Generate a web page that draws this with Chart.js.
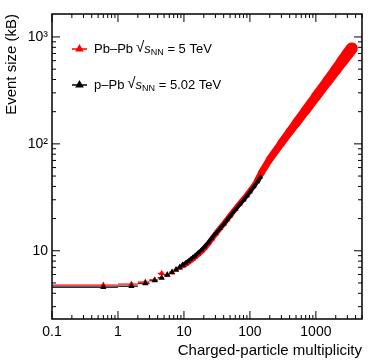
<!DOCTYPE html>
<html><head><meta charset="utf-8">
<script src="https://cdn.jsdelivr.net/npm/chart.js@4"></script>
<style>html,body{margin:0;padding:0;background:#fff}#wrap{width:374px;height:363px;position:relative}</style>
</head><body><div id="wrap"><canvas id="c"></canvas></div>
<script>
// ---- data ----
const pbpbMult = [0.6,1.6,2.6,3.6,4.6,5.6,6.6,7.6,8.6,9.6,10.6,11.6,12.6,13.6,14.6,16.5,18.5,20.5,23.5,26.5,30.5,35.5,40.5,45.5,50.5,60.5,70.5,80.5,90.5,100.5,115.5,130.5,150,200,300,400,500,700,1000,1500,2000,2500,3000,3500];
const pbpbSize = [4.78,4.88,5.1,5.35,6.15,5.95,6.25,6.6,6.9,7.25,7.5,7.8,8.1,8.4,8.7,9.3,9.9,10.6,11.7,12.9,14.5,16.3,18.0,19.8,21.5,24.8,27.8,30.6,33.5,36.5,41,46,54,72,102,130,156,206,277,387,492,593,689,782];
const ppbMult = [0.6,1.6,2.6,3.6,4.6,5.6,6.6,7.6,8.6,9.6,10.6,11.6,12.6,13.6,14.6,16.5,18.5,20.5,23.5,26.5,30.5,35.5,40.5,45.5,50.5,60.5,70.5,80.5,90.5,100.5,115.5,130.5,145.5];
const ppbSize = [4.57,4.66,4.95,5.27,5.58,5.95,6.3,6.65,7.0,7.35,7.7,8.0,8.35,8.65,8.95,9.6,10.2,10.9,12.0,13.2,14.6,16.2,17.8,19.5,21.2,24.3,27.2,29.8,32.6,35.5,39.8,44.3,49.0];
const xTickValues = [0.1,1,10,100,1000];
const xTickLabels = ['0.1','1','10','100','1000'];
const yTickValues = [10,100,1000];
const yTickLabels = ['10','10\u00B2','10\u00B3'];
const seriesNames = ['Pb\u2013Pb','p\u2013Pb'];
const seriesEnergy = [' = 5 TeV',' = 5.02 TeV'];
const xTitle = 'Charged-particle multiplicity';
const yTitle = 'Event size (kB)';

const RED = '#ff0000', BLACK = '#000000';
const FONT = '"Liberation Sans", Arial, sans-serif';
const toPts = (xs, ys) => xs.map((x, i) => ({x, y: ys[i]}));
const pbpb = toPts(pbpbMult, pbpbSize);
const ppb = toPts(ppbMult, ppbSize);
const LOW = 10, JOIN = 130;

const frame = {
  id: 'frame',
  beforeDatasetsDraw(chart) {
    const ctx = chart.ctx, xs = chart.scales.x, ys = chart.scales.y;
    const bars = (pts, col, w) => {
      ctx.save(); ctx.strokeStyle = col; ctx.lineWidth = w;
      pts.filter(p => p.x < LOW).forEach(p => {
        const lo = Math.floor(p.x);
        const x0 = xs.getPixelForValue(Math.max(lo, xs.min));
        const x1 = xs.getPixelForValue(lo + 1);
        const y = ys.getPixelForValue(p.y);
        ctx.beginPath(); ctx.moveTo(x0, y); ctx.lineTo(x1, y); ctx.stroke();
      });
      ctx.restore();
    };
    bars(ppb, '#333', 1.6);
    bars(pbpb, RED, 1.2);
  },
  afterDraw(chart) {
    const ctx = chart.ctx, a = chart.chartArea, xs = chart.scales.x, ys = chart.scales.y;
    ctx.save();
    ctx.strokeStyle = '#000'; ctx.lineWidth = 1;
    const tick = (v, scale, len, horiz) => {
      const p = scale.getPixelForValue(v);
      ctx.beginPath();
      if (horiz) {
        ctx.moveTo(p, a.bottom); ctx.lineTo(p, a.bottom - len);
        ctx.moveTo(p, a.top); ctx.lineTo(p, a.top + len);
      } else {
        ctx.moveTo(a.left, p); ctx.lineTo(a.left + len, p);
        ctx.moveTo(a.right, p); ctx.lineTo(a.right - len, p);
      }
      ctx.stroke();
    };
    for (let d = 0.1; d < xs.max; d *= 10) {
      for (let k = 1; k <= 9; k++) {
        const v = d * k;
        if (v >= xs.min && v <= xs.max) tick(v, xs, k === 1 ? 8 : 4, true);
      }
    }
    for (let d = 1; d < ys.max; d *= 10) {
      for (let k = 1; k <= 9; k++) {
        const v = d * k;
        if (v >= ys.min && v <= ys.max) tick(v, ys, k === 1 ? 8 : 4, false);
      }
    }
    ctx.lineWidth = 1.5;
    ctx.strokeRect(a.left, a.top, a.right - a.left, a.bottom - a.top);
    // legend
    const ly = [49, 85], cols = [RED, BLACK];
    for (let i = 0; i < 2; i++) {
      const y = ly[i];
      ctx.strokeStyle = cols[i]; ctx.fillStyle = cols[i]; ctx.lineWidth = 1.5;
      ctx.beginPath(); ctx.moveTo(72, y); ctx.lineTo(87, y); ctx.stroke();
      Chart.helpers.drawPoint(ctx, {pointStyle: 'triangle', radius: 3.5, rotation: 0, borderWidth: 1}, 79.5, y);
      ctx.fill();
      ctx.fillStyle = '#000'; ctx.textBaseline = 'middle'; ctx.textAlign = 'left';
      let x = 94;
      ctx.font = '13px ' + FONT;
      ctx.fillText(seriesNames[i], x, y); x += ctx.measureText(seriesNames[i]).width + 3;
      ctx.font = '15px ' + FONT;
      ctx.fillText('\u221A', x, y - 1); x += ctx.measureText('\u221A').width;
      ctx.font = 'italic 13px ' + FONT;
      ctx.fillText('s', x, y); x += ctx.measureText('s').width;
      ctx.font = '9px ' + FONT;
      ctx.fillText('NN', x, y + 4); x += ctx.measureText('NN').width;
      ctx.font = '13px ' + FONT;
      ctx.fillText(seriesEnergy[i], x, y);
    }
    ctx.restore();
  }
};

new Chart(document.getElementById('c'), {
  type: 'scatter',
  data: {
    datasets: [
      {label: 'pPb band', data: ppb.filter(p => p.x >= 9), showLine: true, borderColor: BLACK, backgroundColor: BLACK,
       borderWidth: 3.5, pointStyle: 'triangle', pointRadius: 3, pointBorderWidth: 0, order: 0},
      {label: 'pPb', data: ppb.filter(p => p.x < LOW), showLine: false, backgroundColor: BLACK, borderColor: BLACK,
       pointStyle: 'triangle', pointRadius: 3.6, pointBorderWidth: 0, order: 1},
      {label: 'PbPb mid', data: pbpb.filter(p => p.x >= 9 && p.x <= 160), showLine: true, borderColor: RED, backgroundColor: RED,
       borderWidth: 5.5, borderCapStyle: 'round', pointStyle: 'triangle', pointRadius: 3.6, pointBorderWidth: 0, order: 2},
      {label: 'PbPb', data: pbpb.filter(p => p.x < LOW), showLine: false, backgroundColor: RED, borderColor: RED,
       pointStyle: 'triangle', pointRadius: 3.6, pointBorderWidth: 0, order: 3},
      {label: 'PbPb high', data: pbpb.filter(p => p.x >= JOIN), showLine: true, borderColor: RED, backgroundColor: RED,
       borderWidth: 10, borderCapStyle: 'round', borderJoinStyle: 'round', pointRadius: 0, order: 4,
       segment: {borderWidth: c => 6.5 + c.p0DataIndex * 0.5}}
    ]
  },
  options: {
    responsive: true, maintainAspectRatio: false, animation: false,
    layout: {padding: {left: 0, top: 14, right: 12, bottom: 0}},
    plugins: {legend: {display: false}, tooltip: {enabled: false}},
    scales: {
      x: {
        type: 'logarithmic', min: 0.1, max: 5000,
        grid: {display: false, drawTicks: false}, border: {display: false},
        afterBuildTicks: s => { s.ticks = xTickValues.map(v => ({value: v, major: true})); },
        afterFit: s => { s.height = 44; },
        ticks: {autoSkip: false, maxRotation: 0, padding: 5, color: '#000',
          font: {family: FONT, size: 14}, callback: (v, i) => xTickLabels[i]},
        title: {display: true, text: xTitle, align: 'end', color: '#000',
          font: {family: FONT, size: 15}, padding: {top: 0, bottom: 3}}
      },
      y: {
        type: 'logarithmic', min: 2.3, max: 1640,
        grid: {display: false, drawTicks: false}, border: {display: false},
        afterBuildTicks: s => { s.ticks = yTickValues.map(v => ({value: v, major: true})); },
        afterFit: s => { s.width = 52; },
        ticks: {autoSkip: false, padding: 4, color: '#000',
          font: {family: FONT, size: 14}, callback: (v, i) => yTickLabels[i]},
        title: {display: true, text: yTitle, align: 'end', color: '#000',
          font: {family: FONT, size: 15}, padding: {top: 3, bottom: 0}}
      }
    }
  },
  plugins: [frame]
});
</script></body></html>
